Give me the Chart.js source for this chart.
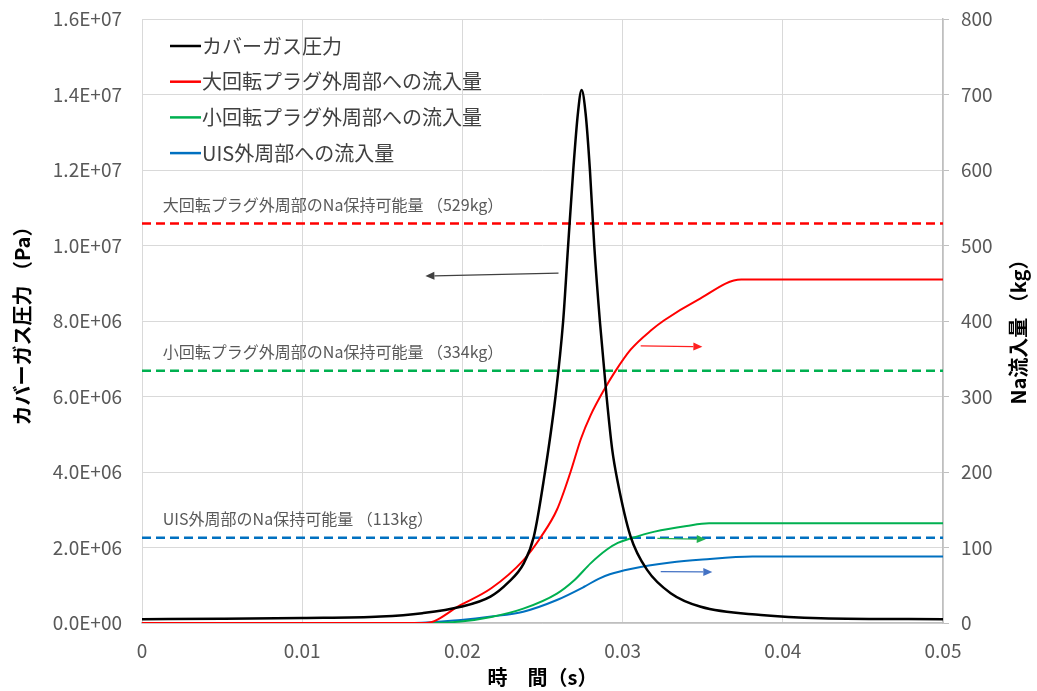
<!DOCTYPE html>
<html><head><meta charset="utf-8">
<script src="https://cdn.jsdelivr.net/npm/chart.js@4/dist/chart.umd.min.js"></script>
<style>html,body{margin:0;padding:0;background:#fff}#wrap{width:1037px;height:691px}</style>
</head><body><div id="wrap"><canvas id="c" width="1037" height="691"></canvas></div>
<script>
// ---------- data ----------
const seriesNames = ['カバーガス圧力', '大回転プラグ外周部への流入量', '小回転プラグ外周部への流入量', 'UIS外周部への流入量'];

const pressureTime   = [0, 0.005, 0.01, 0.0149, 0.0175, 0.0199, 0.02175, 0.0228, 0.02383, 0.02446, 0.02508, 0.02581, 0.02629, 0.0266, 0.02692, 0.02721, 0.02744, 0.02769, 0.02796, 0.02823, 0.02858, 0.0290, 0.02935, 0.02967, 0.0305, 0.03154, 0.0330, 0.03488, 0.03863, 0.04238, 0.05];
const pressureValues = [1.0e5, 1.1e5, 1.3e5, 1.7e5, 2.6e5, 4.3e5, 7.0e5, 1.05e6, 1.58e6, 2.29e6, 3.79e6, 6.0e6, 8.0e6, 1.0e7, 1.2e7, 1.35e7, 1.412e7, 1.35e7, 1.2e7, 1.0e7, 8.0e6, 6.0e6, 4.6e6, 3.79e6, 2.29e6, 1.40e6, 7.9e5, 4.3e5, 2.1e5, 1.25e5, 1.0e5];

const largePlugTime   = [0, 0.0177, 0.0199, 0.0218, 0.0238, 0.0249, 0.0259, 0.02675, 0.0274, 0.0280, 0.0289, 0.0295, 0.0305, 0.0318, 0.0326, 0.0347, 0.0374, 0.05];
const largePlugValues = [0, 0, 24, 46, 83, 114, 150, 200, 244, 275, 311, 332, 362, 388, 401, 428, 455, 455];

const smallPlugTime   = [0, 0.0175, 0.0199, 0.0218, 0.0238, 0.0259, 0.0270, 0.0280, 0.0290, 0.0297, 0.0305, 0.0320, 0.0340, 0.0354, 0.05];
const smallPlugValues = [0, 0, 2, 8, 19, 39, 57, 79, 97, 106, 112, 121, 128.5, 132, 132];

const uisTime   = [0, 0.0170, 0.0199, 0.0218, 0.0238, 0.0259, 0.0276, 0.0285, 0.0292, 0.0305, 0.0330, 0.0350, 0.0381, 0.05];
const uisValues = [0, 0, 4, 8.5, 15, 30.5, 48, 58.5, 64.5, 71.5, 80, 84, 88, 88];

const capacityLabels = ['大回転プラグ外周部のNa保持可能量 （529kg）', '小回転プラグ外周部のNa保持可能量 （334kg）', 'UIS外周部のNa保持可能量 （113kg）'];
const capacityValues = [529, 334, 113];

const xTickValues = [0, 0.01, 0.02, 0.03, 0.04, 0.05];

// annotation arrows: [t0, v0, t1, v1, axis]
const arrowBlack = [0.0260, 9.27e6, 0.01769, 9.19e6, 'y'];
const arrowRed   = [0.03113, 367, 0.03498, 366, 'y1'];
const arrowGreen = [0.03217, 112, 0.03519, 111, 'y1'];
const arrowBlue  = [0.03238, 68, 0.03560, 67.5, 'y1'];

// ---------- styles ----------
const FONT = '"Noto Sans CJK JP", "Noto Sans", sans-serif';
const seriesColors = ['#000000', '#ff0000', '#00b050', '#0070c0'];
const capColors = ['#ff0000', '#00b050', '#0070c0'];
const arrowColors = ['#404040', '#ff2020', '#22b050', '#4472c4'];

const toPts = (ts, vs) => ts.map((t, i) => ({x: t, y: vs[i]}));

const datasets = [
  {label: seriesNames[0], data: toPts(pressureTime, pressureValues), yAxisID: 'y', borderColor: seriesColors[0], borderWidth: 2.5},
  {label: seriesNames[1], data: toPts(largePlugTime, largePlugValues), yAxisID: 'y1', borderColor: seriesColors[1], borderWidth: 2},
  {label: seriesNames[2], data: toPts(smallPlugTime, smallPlugValues), yAxisID: 'y1', borderColor: seriesColors[2], borderWidth: 2},
  {label: seriesNames[3], data: toPts(uisTime, uisValues), yAxisID: 'y1', borderColor: seriesColors[3], borderWidth: 2},
].map(d => Object.assign(d, {pointRadius: 0, fill: false, cubicInterpolationMode: 'monotone'}));

capacityValues.forEach((v, i) => {
  datasets.push({label: capacityLabels[i], data: [{x: xTickValues[0], y: v}, {x: xTickValues[xTickValues.length - 1], y: v}],
    yAxisID: 'y1', borderColor: capColors[i], borderWidth: 2.5, borderDash: [9, 5], pointRadius: 0, fill: false, tension: 0, order: 5});
});

function sci(v) {
  if (v === 0) return '0.0E+00';
  const e = Math.floor(Math.log10(v) + 1e-9);
  const m = v / Math.pow(10, e);
  return m.toFixed(1) + 'E+' + String(e).padStart(2, '0');
}

const overlayPlugin = {
  id: 'overlay',
  afterDatasetsDraw(chart) {
    const ctx = chart.ctx, a = chart.chartArea, xs = chart.scales.x;
    ctx.save();
    // capacity labels
    ctx.font = '16px ' + FONT;
    ctx.fillStyle = '#595959';
    ctx.textBaseline = 'middle';
    ctx.textAlign = 'left';
    capacityValues.forEach((v, i) => {
      const y = chart.scales.y1.getPixelForValue(v) - 19;
      ctx.fillText(capacityLabels[i], xs.getPixelForValue(0.0013), y);
    });
    // arrows
    [arrowBlack, arrowRed, arrowGreen, arrowBlue].forEach((ar, i) => {
      const ys = chart.scales[ar[4]];
      const x0 = xs.getPixelForValue(ar[0]), y0 = ys.getPixelForValue(ar[1]);
      const x1 = xs.getPixelForValue(ar[2]), y1 = ys.getPixelForValue(ar[3]);
      const ang = Math.atan2(y1 - y0, x1 - x0);
      const hl = 9, hw = 4;
      ctx.strokeStyle = arrowColors[i]; ctx.fillStyle = arrowColors[i]; ctx.lineWidth = 1.3;
      ctx.beginPath(); ctx.moveTo(x0, y0);
      ctx.lineTo(x1 - hl * Math.cos(ang), y1 - hl * Math.sin(ang)); ctx.stroke();
      ctx.beginPath();
      ctx.moveTo(x1, y1);
      ctx.lineTo(x1 - hl * Math.cos(ang) + hw * Math.sin(ang), y1 - hl * Math.sin(ang) - hw * Math.cos(ang));
      ctx.lineTo(x1 - hl * Math.cos(ang) - hw * Math.sin(ang), y1 - hl * Math.sin(ang) + hw * Math.cos(ang));
      ctx.closePath(); ctx.fill();
    });
    // legend
    ctx.font = '20px ' + FONT;
    seriesNames.forEach((n, i) => {
      const y = a.top + 27 + i * 35.7;
      const x = a.left + 28;
      ctx.strokeStyle = seriesColors[i]; ctx.lineWidth = 2.5;
      ctx.beginPath(); ctx.moveTo(x, y); ctx.lineTo(x + 31, y); ctx.stroke();
      ctx.fillStyle = '#404040';
      ctx.fillText(n, x + 32, y);
    });
    ctx.restore();
  },
  afterDraw(chart) {
    const ctx = chart.ctx, a = chart.chartArea;
    ctx.save();
    ctx.font = 'bold 20px ' + FONT;
    ctx.fillStyle = '#000';
    ctx.textAlign = 'center';
    ctx.textBaseline = 'middle';
    ctx.translate(1018, (a.top + a.bottom) / 2 + 6);
    ctx.rotate(-Math.PI / 2);
    ctx.fillText('Na流入量 （kg）', 0, 0);
    ctx.restore();
  }
};

new Chart(document.getElementById('c'), {
  type: 'line',
  data: {datasets},
  options: {
    responsive: false, animation: false, devicePixelRatio: 1,
    layout: {padding: {top: 19, left: 0, right: 0, bottom: 0}},
    plugins: {legend: {display: false}, tooltip: {enabled: false}},
    scales: {
      x: {
        type: 'linear', min: 0, max: 0.05,
        afterBuildTicks: s => { s.ticks = xTickValues.map(v => ({value: v})); },
        afterFit: s => { s.height = 68; s.paddingLeft = 0; s.paddingRight = 0; },
        grid: {color: '#d9d9d9', drawTicks: false, lineWidth: 1},
        border: {color: '#bfbfbf', width: 1.5},
        ticks: {padding: 16, color: '#595959', font: {family: FONT, size: 19},
          callback: v => v === 0 ? '0' : v.toFixed(2)},
        title: {display: true, text: '時　間（s）', color: '#000', font: {family: FONT, size: 20, weight: 'bold'}, padding: {top: 0, bottom: 2}}
      },
      y: {
        type: 'linear', position: 'left', min: 0, max: 1.6e7,
        ticks: {stepSize: 2e6, padding: 20, color: '#595959', font: {family: FONT, size: 19}, callback: v => sci(v)},
        afterFit: s => { s.width = 142; s.paddingTop = 0; s.paddingBottom = 0; },
        grid: {color: '#d9d9d9', drawTicks: false, lineWidth: 1},
        border: {display: false},
        title: {display: true, text: 'カバーガス圧力 （Pa）', color: '#000', font: {family: FONT, size: 20, weight: 'bold'}, padding: {top: 10, bottom: 0}}
      },
      y1: {
        type: 'linear', position: 'right', min: 0, max: 800,
        ticks: {stepSize: 100, padding: 12, color: '#595959', font: {family: FONT, size: 19}},
        afterFit: s => { s.width = 94; s.paddingTop = 0; s.paddingBottom = 0; },
        grid: {drawOnChartArea: false, drawTicks: true, tickLength: 6, color: '#bfbfbf'},
        border: {color: '#bfbfbf', width: 1.5}
      }
    }
  },
  plugins: [overlayPlugin]
});
</script>
</body></html>
